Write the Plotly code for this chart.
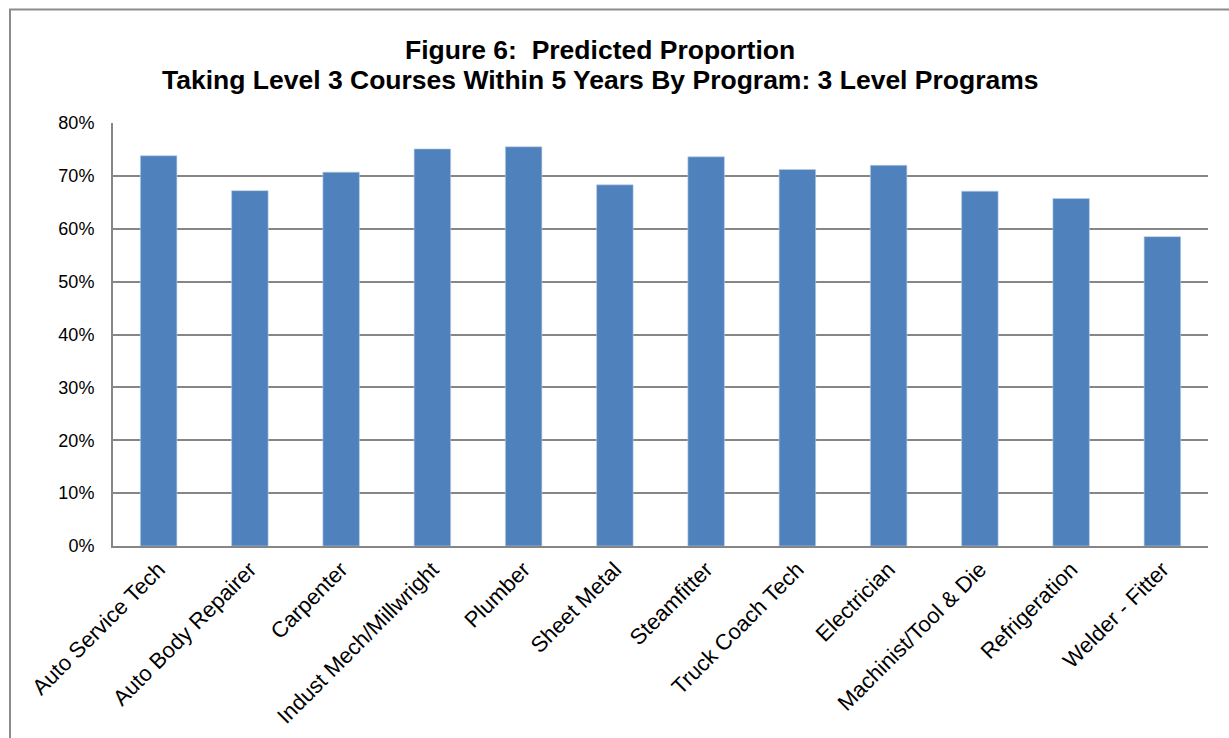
import plotly.graph_objects as go

programs = [
    "Auto Service Tech", "Auto Body Repairer", "Carpenter", "Indust Mech/Millwright",
    "Plumber", "Sheet Metal", "Steamfitter", "Truck Coach Tech", "Electrician",
    "Machinist/Tool & Die", "Refrigeration", "Welder - Fitter",
]
proportion = [0.738, 0.672, 0.707, 0.751, 0.755, 0.683, 0.736, 0.712, 0.720, 0.671, 0.657, 0.585]
y_ticks = [0, 0.1, 0.2, 0.3, 0.4, 0.5, 0.6, 0.7, 0.8]
title_lines = [
    "Figure 6:  Predicted Proportion",
    "Taking Level 3 Courses Within 5 Years By Program: 3 Level Programs",
]

FONT = "Liberation Sans, Arial, sans-serif"
GRID = "#868686"

# plot-area geometry in pixels, used to place the frame and titles in paper units
PLOT_L, PLOT_R, PLOT_T, PLOT_B = 113, 1208, 123.3, 545.7
W, H = PLOT_R - PLOT_L, PLOT_B - PLOT_T


def px_x(x):
    return (x - PLOT_L) / W


def px_y(y):
    return (PLOT_B - y) / H


fig = go.Figure(
    go.Bar(
        x=programs,
        y=proportion,
        marker=dict(color="#4F81BD", line=dict(color="#B9CDE5", width=0.6)),
    )
)

title_y = [50, 80]
annotations = [
    dict(
        text=line,
        xref="paper",
        yref="paper",
        x=px_x(600),
        y=px_y(yy),
        xanchor="center",
        yanchor="middle",
        showarrow=False,
        font=dict(family=FONT, size=26.5, color="black", weight="bold"),
    )
    for line, yy in zip(title_lines, title_y)
]

fig.update_layout(
    width=1229,
    height=738,
    margin=dict(l=PLOT_L, r=1229 - PLOT_R, t=PLOT_T, b=738 - PLOT_B, autoexpand=False),
    paper_bgcolor="white",
    plot_bgcolor="white",
    bargap=0.6,
    showlegend=False,
    font=dict(family=FONT, color="black"),
    annotations=annotations,
    xaxis=dict(
        tickangle=-45,
        tickfont=dict(family=FONT, size=22, color="black"),
        showline=True,
        linecolor=GRID,
        linewidth=2,
        showgrid=False,
        ticks="",
        automargin=False,
    ),
    yaxis=dict(
        range=[0, 0.8],
        tickvals=y_ticks,
        tickformat=".0%",
        tickfont=dict(family=FONT, size=18, color="black"),
        showline=True,
        linecolor=GRID,
        linewidth=2,
        showgrid=True,
        gridcolor=GRID,
        gridwidth=1.6,
        zeroline=False,
        ticks="",
        ticklabelstandoff=13,
        automargin=False,
    ),
    shapes=[
        dict(
            type="rect",
            xref="paper",
            yref="paper",
            x0=px_x(10),
            x1=px_x(1245),
            y0=px_y(760),
            y1=px_y(10),
            line=dict(color="#8C8C8C", width=2),
            fillcolor="rgba(0,0,0,0)",
            layer="below",
        )
    ],
)

fig.write_html("out.html")
